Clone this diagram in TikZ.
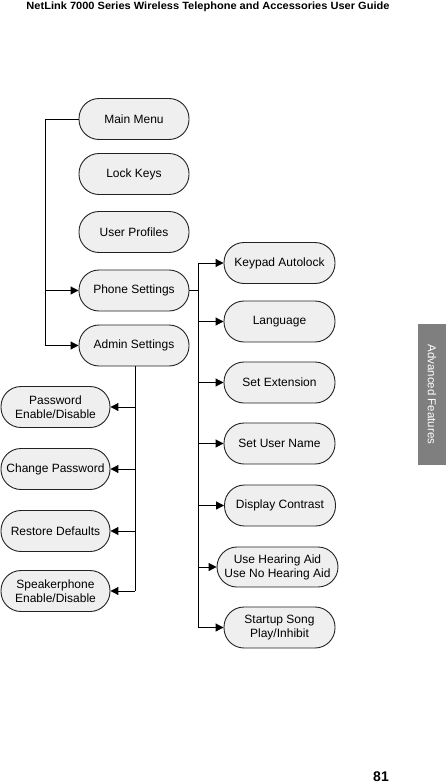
\documentclass[tikz,border=0pt]{standalone}
\usepackage{fontspec}
\usepackage{graphicx}
\setmainfont{Liberation Sans}
\usetikzlibrary{arrows.meta}
\definecolor{boxfill}{HTML}{EFEFEF}
\definecolor{boxline}{HTML}{222222}
\definecolor{tabgray}{HTML}{7F7F7F}
\begin{document}
\begin{tikzpicture}[x=1pt,y=-1pt,
  box/.style={draw=boxline,fill=boxfill,line width=0.9pt,rounded corners=20pt,
    minimum width=110pt,minimum height=41pt,inner sep=0pt,align=center,
    text=black,font=\fontsize{12}{14}\selectfont},
  conn/.style={line width=1pt,draw=black},
  arr/.style={conn,-{Triangle[length=8pt,width=8pt]}}]
\useasboundingbox (0,0) rectangle (446,784);

% header and page number
\node[anchor=base,inner sep=0pt] (hdr) at (208,9.5)
  {\resizebox{363pt}{\height}{\fontsize{10.5}{12}\selectfont\bfseries NetLink 7000 Series Wireless Telephone and Accessories User Guide}};
\node[anchor=base,inner sep=0pt,font=\fontsize{14}{16}\selectfont\bfseries] (pg) at (381,781.5) {81};

% side tab
\fill[tabgray] (418,324) rectangle (446,465);
\node[rotate=-90,text=white,font=\fontsize{11.5}{13}\selectfont] (tab) at (432,394.5) {Advanced Features};

% left column
\node[box] (mm) at (134,119) {Main Menu};
\node[box] (lk) at (134,174) {Lock Keys};
\node[box] (up) at (134,232) {User Profiles};
\node[box] (ps) at (134,290.5) {Phone Settings};
\node[box] (as) at (134,345.5) {Admin Settings};

% right column
\node[box,minimum width=111pt] (ka) at (279.5,263) {Keypad Autolock};
\node[box,minimum width=111pt] (la) at (279.5,321.5) {Language};
\node[box,minimum width=111pt] (se) at (279.5,382.5) {Set Extension};
\node[box,minimum width=111pt] (un) at (279.5,443.5) {Set User Name};
\node[box,minimum width=111pt] (dc) at (280,505.5) {Display Contrast};
\node[box,minimum width=121pt,minimum height=40pt] (ha) at (277.5,567) {Use Hearing Aid\\Use No Hearing Aid};
\node[box,minimum width=111pt] (ss) at (279.5,627.5) {Startup Song\\Play/Inhibit};

% bottom-left column
\node[box,minimum width=109pt] (pw) at (55.5,407) {Password\\Enable/Disable};
\node[box,minimum width=109pt] (cp) at (55.5,469) {Change Password};
\node[box,minimum width=109pt] (rd) at (55.5,531) {Restore Defaults};
\node[box,minimum width=109pt] (sp) at (55.5,591) {Speakerphone\\Enable/Disable};

% main menu connectors
\coordinate (lt) at (45,119);
\coordinate (lb) at (45,345.5);
\draw[conn] (mm.west) -- (lt) -- (lb);
\draw[arr] (lb) -- (as.west);
\draw[arr] (lt |- ps.west) -- (ps.west);

% phone settings connectors
\coordinate (rt) at (198,263);
\coordinate (rb) at (198,627.5);
\draw[conn] (ps.east) -- (rt |- ps.east);
\draw[conn] (rt) -- (rb);
\foreach \n in {ka,la,se,un,dc,ha,ss}
  \draw[arr] (rt |- \n.west) -- (\n.west);

% admin settings connectors
\coordinate (at) at (135,345.5);
\draw[conn] (as.south -| at) -- (at |- sp.east);
\foreach \n in {pw,cp,rd,sp}
  \draw[arr] (at |- \n.east) -- (\n.east);
\end{tikzpicture}
\end{document}
